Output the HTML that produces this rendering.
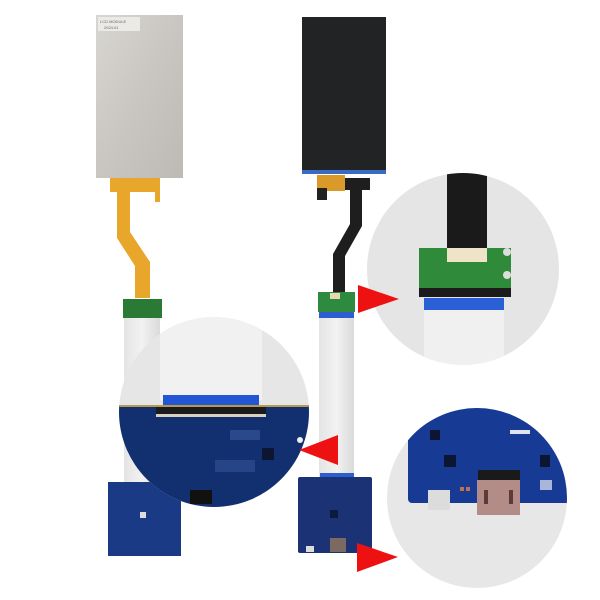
<!DOCTYPE html>
<html><head><meta charset="utf-8"><style>
html,body{margin:0;padding:0;background:#fff;width:600px;height:600px;overflow:hidden}
svg{display:block}
</style></head><body>
<svg width="600" height="600" viewBox="0 0 600 600" xmlns="http://www.w3.org/2000/svg">
<defs>
<linearGradient id="silver" x1="0" y1="0" x2="1" y2="1">
<stop offset="0" stop-color="#d8d6d2"/><stop offset="0.5" stop-color="#c9c6c1"/><stop offset="1" stop-color="#bdbab4"/></linearGradient>
<linearGradient id="ribbon" x1="0" y1="0" x2="1" y2="0">
<stop offset="0" stop-color="#e4e4e4"/><stop offset="0.5" stop-color="#f2f2f2"/><stop offset="1" stop-color="#dadada"/></linearGradient>
<clipPath id="c1"><circle cx="214" cy="412" r="95"/></clipPath>
<clipPath id="c2"><circle cx="463" cy="269" r="96"/></clipPath>
<clipPath id="c3"><circle cx="477" cy="498" r="90"/></clipPath>
</defs>

<!-- LEFT PANEL -->
<rect x="96" y="15" width="87" height="163" fill="url(#silver)"/>
<rect x="98" y="17" width="42" height="14" fill="#eceae6"/>
<text x="100" y="23" font-family="Liberation Sans, sans-serif" font-size="4" fill="#666">LCD MODULE</text>
<text x="104" y="29" font-family="Liberation Sans, sans-serif" font-size="4" fill="#666">2024.01</text>
<!-- orange flex -->
<path d="M110 178 H160 V202 H155 V192 H130 V232 L150 262 V298 H135 V266 L117 238 V192 H110 Z" fill="#e8a62a"/>
<!-- white ribbon -->
<rect x="124" y="317" width="36" height="166" fill="url(#ribbon)"/>
<rect x="123" y="299" width="39" height="19" fill="#2a7a36"/>
<!-- left board -->
<rect x="108" y="482" width="73" height="74" fill="#1b3a86"/>
<rect x="140" y="512" width="6" height="6" fill="#ddd"/>

<!-- RIGHT PANEL -->
<rect x="302" y="17" width="84" height="157" fill="#222324"/>
<rect x="302" y="170" width="84" height="4" fill="#3a6bc0"/>
<rect x="317" y="175" width="28" height="16" fill="#d99a2a"/>
<rect x="317" y="188" width="10" height="12" fill="#222"/>
<rect x="345" y="178" width="25" height="12" fill="#1e1e1e"/>
<path d="M350 188 H362 V226 L345 256 V294 H333 V254 L350 224 Z" fill="#1e1e1e"/>
<rect x="319" y="312" width="35" height="168" fill="url(#ribbon)"/>
<rect x="318" y="292" width="37" height="20" fill="#2e8a3e"/>
<rect x="330" y="293" width="10" height="6" fill="#e8d8b0"/>
<rect x="319" y="312" width="35" height="6" fill="#2c5ed0"/>
<rect x="320" y="473" width="34" height="6" fill="#2c5ed0"/>
<!-- right board -->
<rect x="298" y="477" width="74" height="76" rx="2" fill="#1b3275"/>
<rect x="330" y="538" width="16" height="14" fill="#7a6a62"/>
<rect x="306" y="546" width="8" height="6" fill="#ddd"/>
<rect x="330" y="510" width="8" height="8" fill="#0e1a3a"/>

<!-- CIRCLE 1 (left zoom) -->
<circle cx="214" cy="412" r="95" fill="#e6e6e6"/>
<g clip-path="url(#c1)">
<rect x="160" y="310" width="102" height="90" fill="#f1f1f1"/>
<rect x="163" y="395" width="96" height="12" fill="#2356d4"/>
<rect x="110" y="405" width="210" height="110" fill="#12306f"/>
<rect x="110" y="405" width="210" height="2" fill="#b59a50"/>
<rect x="156" y="407" width="110" height="8" fill="#1b1b1b"/>
<rect x="156" y="414" width="110" height="3" fill="#d8d0c0"/>
<rect x="262" y="448" width="12" height="12" fill="#0c1630"/>
<rect x="190" y="490" width="22" height="14" fill="#111"/>
<rect x="230" y="430" width="30" height="10" fill="#3a5aa0" opacity="0.6"/>
<rect x="215" y="460" width="40" height="12" fill="#3a5aa0" opacity="0.5"/>
<circle cx="300" cy="440" r="3" fill="#eee"/>
</g>

<!-- CIRCLE 2 (top right) -->
<circle cx="463" cy="269" r="96" fill="#e5e5e5"/>
<g clip-path="url(#c2)">
<rect x="447" y="165" width="40" height="85" fill="#1a1a1a"/>
<rect x="419" y="248" width="92" height="44" fill="#2f8a3a"/>
<rect x="447" y="248" width="40" height="14" fill="#efe4c8"/>
<rect x="419" y="288" width="92" height="9" fill="#1b1b1b"/>
<rect x="424" y="298" width="80" height="12" fill="#2a5fd6"/>
<rect x="424" y="310" width="80" height="70" fill="#f0f0f0"/>
<circle cx="507" cy="252" r="4" fill="#ddd"/>
<circle cx="507" cy="275" r="4" fill="#ddd"/>
</g>

<!-- CIRCLE 3 (bottom right) -->
<circle cx="477" cy="498" r="90" fill="#e7e7e7"/>
<g clip-path="url(#c3)">
<rect x="408" y="400" width="170" height="103" rx="4" fill="#173a95"/>
<rect x="430" y="430" width="10" height="10" fill="#0c1630"/>
<rect x="444" y="455" width="12" height="12" fill="#0c1630"/>
<rect x="510" y="430" width="20" height="4" fill="#dfe3ef"/>
<rect x="540" y="455" width="10" height="12" fill="#0c1630"/>
<rect x="540" y="480" width="12" height="10" fill="#cfd6e8" opacity="0.8"/>
<rect x="428" y="490" width="22" height="20" fill="#dcdcdc"/>
<rect x="460" y="487" width="4" height="4" fill="#c07050"/>
<rect x="466" y="487" width="4" height="4" fill="#c07050"/>
<rect x="478" y="470" width="42" height="12" fill="#1a1a1a"/>
<rect x="477" y="480" width="43" height="35" fill="#b38c88"/>
<rect x="484" y="490" width="4" height="14" fill="#5a3a3a"/>
<rect x="509" y="490" width="4" height="14" fill="#5a3a3a"/>
</g>

<!-- RED ARROWS -->
<polygon points="358,285 399,299 358,313" fill="#ee1111"/>
<polygon points="338,435 299,450 338,465" fill="#ee1111"/>
<polygon points="357,543 398,557 357,572" fill="#ee1111"/>
</svg>
</body></html>
